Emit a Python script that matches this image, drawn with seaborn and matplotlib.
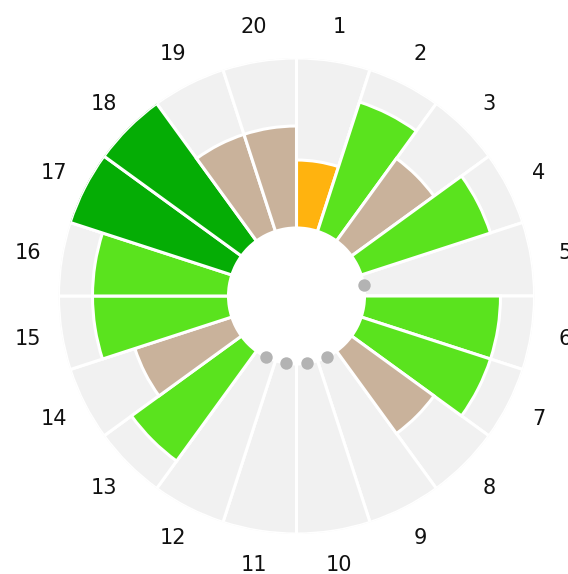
import numpy as np
import matplotlib
matplotlib.use("Agg")
import matplotlib.pyplot as plt
import seaborn as sns

# ---- data ----
labels = [str(i) for i in range(1, 21)]
values = [2, 4, 3, 4, np.nan, 4, 4, 3, np.nan, np.nan,
          np.nan, np.nan, 4, 3, 4, 4, 5, 5, 3, 3]
max_value = 5
level_colors = {2: "#FFB30F", 3: "#C9B29B", 4: "#5AE31E", 5: "#05AD05"}

sns.set_style("white")
plt.rcParams['font.family'] = ['DejaVu Sans']

fig = plt.figure(figsize=(5.68, 5.74), dpi=100)
ax = fig.add_axes([58.5 / 568, (574 - 534) / 574, 476 / 568, 476 / 574], projection="polar")
ax.set_theta_zero_location("N")
ax.set_theta_direction(-1)

n = len(labels)
width = 2 * np.pi / n
theta = np.arange(n) * width + width / 2
base = 2

# background bars
ax.bar(theta, [max_value] * n, width=width, bottom=base, color="#F1F1F1",
       edgecolor="white", linewidth=2.2, align="center")

# value bars
for t, v in zip(theta, values):
    if np.isnan(v):
        continue
    ax.bar(t, v, width=width, bottom=base, color=level_colors[int(v)],
           edgecolor="white", linewidth=2.2, align="center")

# missing markers
miss_t = [t for t, v in zip(theta, values) if np.isnan(v)]
ax.scatter(miss_t, [base] * len(miss_t), s=80, color="#B3B3B3", zorder=5,
           clip_on=False, linewidths=0)

# labels
for t, lab in zip(theta, labels):
    ax.text(t, base + max_value + 1.0, lab, ha="center", va="center",
            fontsize=15, color="#111111", clip_on=False)

ax.set_ylim(0, base + max_value)
ax.set_xticks([])
ax.set_yticks([])
ax.grid(False)
ax.spines["polar"].set_visible(False)
ax.set_facecolor("white")

fig.savefig("out.png", dpi=100)
